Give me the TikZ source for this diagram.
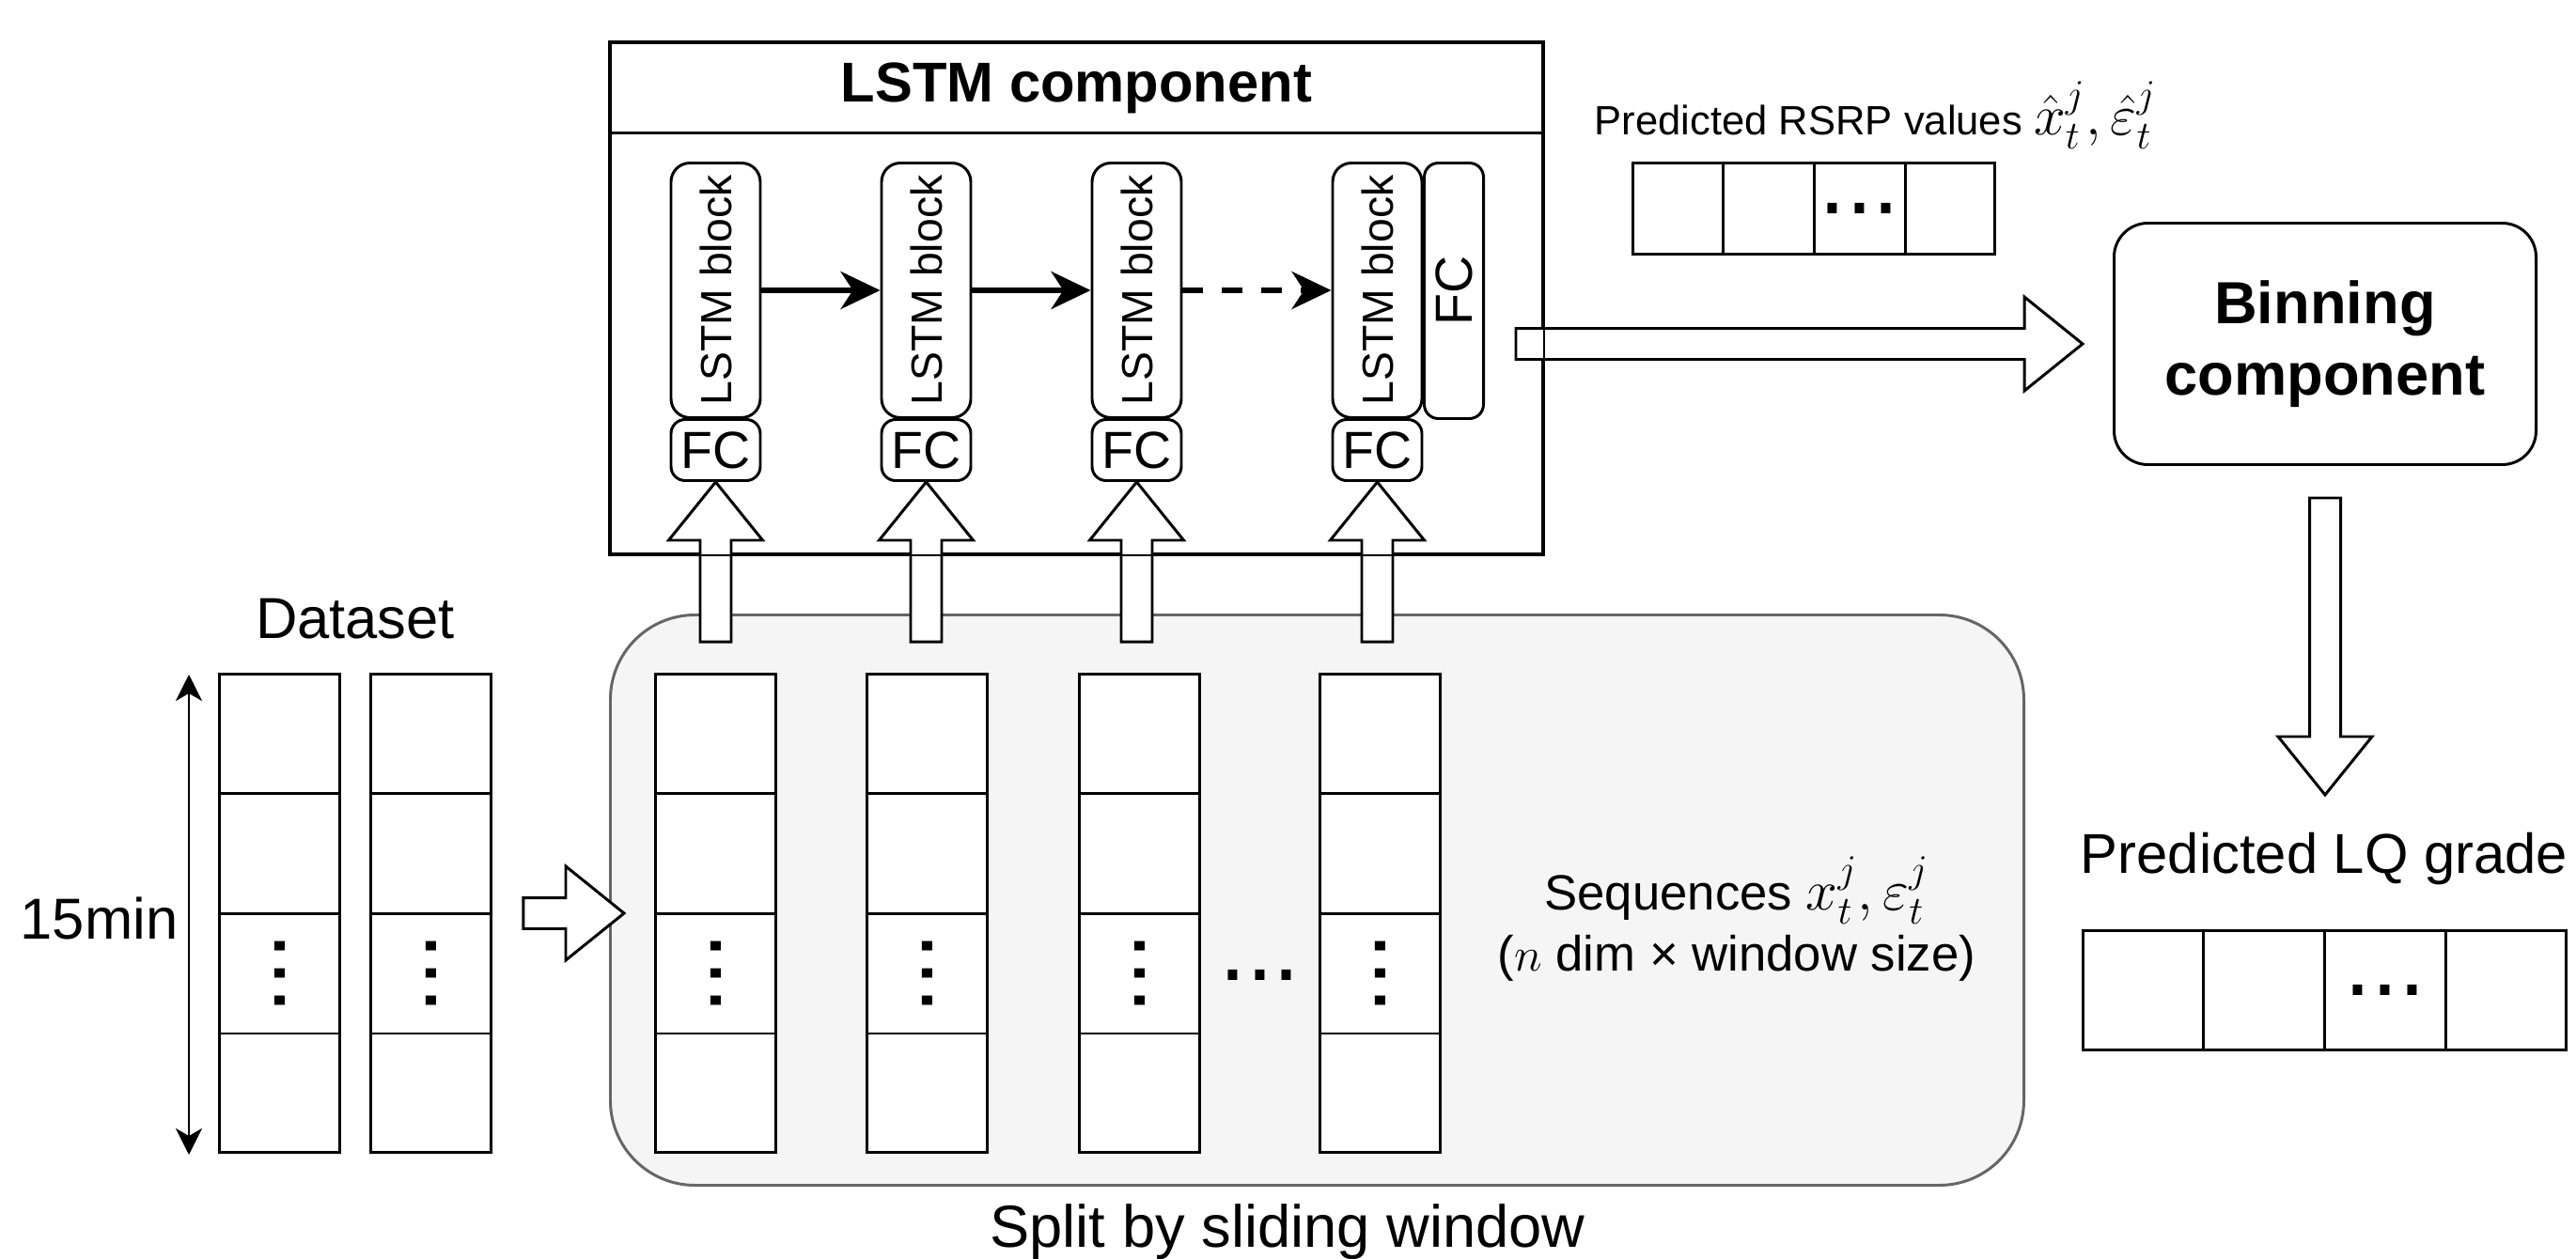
\documentclass[tikz,border=0pt]{standalone}
\usepackage{amsmath}
\usepackage{graphicx}
\usepackage{fontspec}
\setmainfont{Liberation Sans}
\usetikzlibrary{calc,positioning,arrows.meta}

\definecolor{panelfill}{HTML}{F5F5F5}
\definecolor{panelline}{HTML}{666666}

\tikzset{
  box/.style={rectangle,draw=black,line width=0.85pt,inner sep=0pt},
  cell/.style={box,fill=white,minimum width=1.28cm,minimum height=5.09cm},
  blk/.style={box,rounded corners=0.2cm,minimum width=0.95cm,minimum height=2.71cm,font=\fontsize{13.2}{15}\selectfont},
  fcbox/.style={box,rounded corners=0.15cm,minimum width=0.95cm,minimum height=0.65cm,font=\fontsize{15.8}{18}\selectfont},
  lbl/.style={inner sep=0pt,font=\fontsize{17.5}{21}\selectfont},
  dots/.style={inner sep=0pt,font=\fontsize{29.6}{30}\selectfont},
  flow/.style={line width=1.5pt,-{Stealth[length=0.42cm,width=0.4cm,inset=0.13cm]}},
  span/.style={line width=0.75pt,{Stealth[length=0.28cm,width=0.28cm,inset=0.08cm]}-{Stealth[length=0.28cm,width=0.28cm,inset=0.08cm]}},
  hollow/.style={draw=black,fill=white,line width=0.85pt,to path={
    let \p1=($(\tikztotarget)!0.62cm!(\tikztostart)$) in
    ($(\tikztostart)!0.165cm!90:(\tikztotarget)$)
    -- ($(\p1)!0.165cm!-90:(\tikztostart)$)
    -- ($(\p1)!0.5cm!-90:(\tikztostart)$)
    -- (\tikztotarget)
    -- ($(\p1)!0.5cm!90:(\tikztostart)$)
    -- ($(\p1)!0.165cm!90:(\tikztostart)$)
    -- ($(\tikztostart)!0.165cm!-90:(\tikztotarget)$)
    -- cycle}}
}

\begin{document}
\begin{tikzpicture}
  \useasboundingbox (0,0) rectangle (27.41,-13.40);

  % sliding window panel
  \node[draw=panelline,fill=panelfill,line width=0.85pt,rounded corners=0.9cm,minimum width=15.04cm,minimum height=6.07cm,above right] (panel) at (6.48,-12.63) {};
  \node[inner sep=0pt,align=center,font=\fontsize{15}{18.5}\selectfont] (seqlbl) at (18.48,-9.78) {Sequences {\fontsize{18}{20}\selectfont$x_t^j, \varepsilon_t^j$}\\($n$ dim × window size)};
  \node[lbl,font=\fontsize{18}{21}\selectfont,anchor=base] (splitlbl) at (13.70,-13.27) {Split by sliding window};

  % dataset and windows
  \node[cell,above right] (ds1) at (2.32,-12.28) {};
  \node[cell,above right] (ds2) at (3.93,-12.28) {};
  \foreach \i/\x in {1/6.96,2/9.21,3/11.47,4/14.03}
    \node[cell,above right] (seq\i) at (\x,-12.28) {};
  \foreach \c in {ds1,ds2,seq1,seq2,seq3,seq4} {
    \foreach \f in {0.25,0.5,0.75}
      \draw[line width=0.85pt] ($(\c.north west)!\f!(\c.south west)$) -- ($(\c.north east)!\f!(\c.south east)$);
    \node[dots,rotate=90] at ($(\c.north)!0.625!(\c.south)$) {...};
  }
  \node[dots] (gapdots) at ($(seq3.east)!0.5!(seq4.west)+(0,-0.66)$) {...};
  \node[lbl,anchor=base] (dslbl) at (3.78,-6.80) {Dataset};
  \node[lbl,anchor=base east] (minlbl) at (1.90,-9.996) {15min};
  \draw[span] ($(ds1.north west)+(-0.31,-0.02)$) -- ($(ds1.south west)+(-0.31,-0.01)$);

  % lstm part
  \node[box,minimum width=9.92cm,minimum height=5.44cm,above right] (lstm) at (6.48,-5.91) {};
  \node[box,minimum width=9.92cm,minimum height=0.96cm,font=\fontsize{17}{20}\selectfont\bfseries,above right] (lstmtitle) at (6.48,-1.43) {LSTM component};
  \foreach \i/\x in {1/7.125,2/9.365,3/11.605,4/14.165} {
    \node[blk,above right] (blk\i) at (\x,-4.46) {\rotatebox{90}{LSTM block}};
    \node[fcbox,above right] (fc\i) at (\x,-5.13) {FC};
  }
  \node[fcbox,minimum width=0.63cm,minimum height=2.72cm,above right] (fcout) at (15.14,-4.47) {\rotatebox{90}{FC}};
  \draw[flow] (blk1.east) -- (blk2.west);
  \draw[flow] (blk2.east) -- (blk3.west);
  \draw[flow,dash pattern=on 0.22cm off 0.2cm] (blk3.east) -- (blk4.west);

  % outputs
  \node[inner sep=0pt,font=\fontsize{12.4}{15}\selectfont,anchor=base west] (rsrplbl) at (16.96,-1.44) {Predicted RSRP values {\fontsize{17.5}{20}\selectfont$\hat{x}{}_t^j, \hat{\varepsilon}{}_t^j$}};
  \node[box,fill=white,minimum width=3.85cm,minimum height=0.97cm,above right] (rsrp) at (17.36,-2.72) {};
  \node[box,rounded corners=0.36cm,minimum width=4.49cm,minimum height=2.57cm,align=center,font=\fontsize{18}{21.6}\selectfont\bfseries,above right] (bin) at (22.48,-4.96) {Binning\\component};
  \node[lbl,font=\fontsize{17}{20}\selectfont,anchor=base] (lqlbl) at (24.73,-9.29) {Predicted LQ grade};
  \node[box,fill=white,minimum width=5.14cm,minimum height=1.27cm,above right] (lq) at (22.15,-11.19) {};
  \foreach \r in {rsrp,lq} {
    \foreach \f in {0.25,0.5,0.75}
      \draw[line width=0.85pt] ($(\r.north west)!\f!(\r.north east)$) -- ($(\r.south west)!\f!(\r.south east)$);
    \node[dots] at ($(\r.west)!0.625!(\r.east)$) {...};
  }

  % block arrows
  \coordinate (dsout) at ($(ds2.east)+(0.33,0)$);
  \coordinate (panelin) at ($(panel.west |- ds2.east)+(0.16,0)$);
  \draw[hollow] (dsout) to (panelin);
  \foreach \i in {1,2,3,4} {
    \coordinate (up\i) at ($(fc\i.south |- seq\i.north)+(0,0.33)$);
    \draw[hollow] (up\i) to (fc\i.south);
  }
  \coordinate (lstmout) at ($(bin.west -| fcout.east)+(0.33,0)$);
  \coordinate (binin) at ($(bin.west)+(-0.32,0)$);
  \draw[hollow] (lstmout) to (binin);
  \coordinate (binout) at ($(bin.south)+(0,-0.34)$);
  \coordinate (lqin) at ($(bin.south)+(0,-3.50)$);
  \draw[hollow] (binout) to (lqin);
  \draw[line width=0.85pt] (lstm.south west) rectangle (lstm.north east);
\end{tikzpicture}
\end{document}
